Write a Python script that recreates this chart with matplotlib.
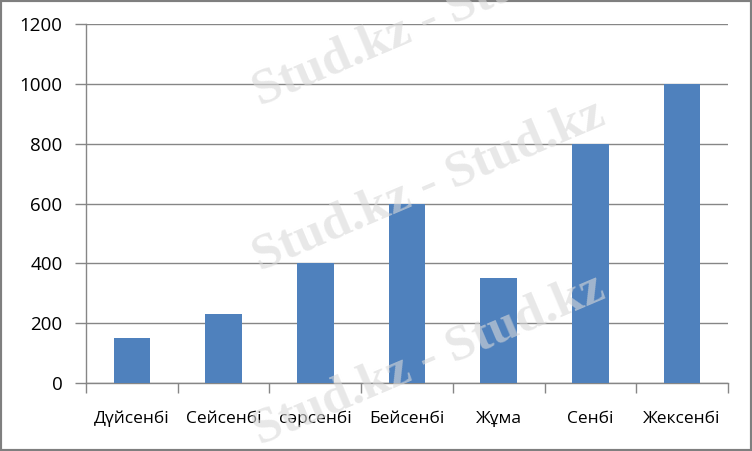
import numpy as np
import matplotlib.pyplot as plt
from matplotlib.patches import Rectangle

days = ["Дүйсенбі", "Сейсенбі", "сәрсенбі", "Бейсенбі", "Жұма", "Сенбі", "Жексенбі"]
values = [150, 230, 400, 600, 350, 800, 1000]
yticks = [0, 200, 400, 600, 800, 1000, 1200]

plt.rcParams['font.family'] = ['Open Sans', 'DejaVu Sans']

fig = plt.figure(figsize=(7.52, 4.51), dpi=100)
ax = fig.add_axes([0.1144, 0.1508, 0.968 - 0.1144, 0.9457 - 0.1508])

x = np.arange(len(days))
ax.bar(x, values, width=0.4, color="#4F81BD", zorder=3)

ax.set_xlim(-0.5, len(days) - 0.5)
ax.set_ylim(0, 1200)
ax.set_yticks(yticks)
ax.set_yticklabels([str(v) for v in yticks], fontsize=13.5)
ax.yaxis.grid(True, color="#868686", lw=1, zorder=1)

ax.set_xticks(x)
ax.set_xticklabels(days, fontsize=12.5)
ax.set_xticks(np.arange(-0.5, len(days)), minor=True)
ax.tick_params(axis="x", which="major", length=0, pad=20)
ax.tick_params(axis="x", which="minor", length=7, color="#868686", width=1)
ax.tick_params(axis="y", length=8, color="#868686", width=1, pad=9)

for s in ["top", "right"]:
    ax.spines[s].set_visible(False)
for s in ["left", "bottom"]:
    ax.spines[s].set_color("#868686")
    ax.spines[s].set_linewidth(1)

# faint watermark
for (wx, wy) in [(0.345, 0.765), (0.345, 0.40), (0.345, 0.015)]:
    fig.text(wx, wy, "Stud.kz - Stud.kz", rotation=23, fontsize=37,
             family="Liberation Serif", weight="bold", color="#d9d9d9",
             alpha=0.6, zorder=5, rotation_mode="anchor")

fig.patches.append(Rectangle((0, 0), 1, 1, transform=fig.transFigure,
                             fill=False, edgecolor="#7f7f7f", lw=3))

fig.savefig("out.png", dpi=100)
